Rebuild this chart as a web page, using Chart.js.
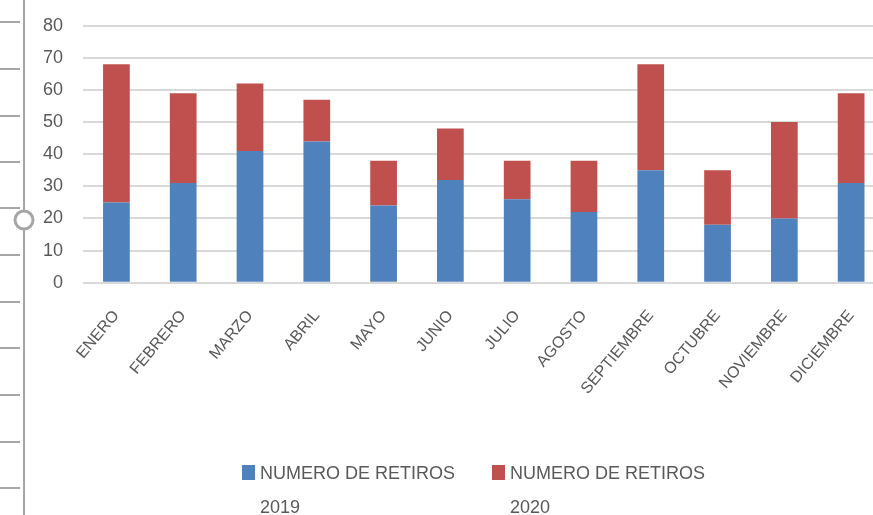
<!DOCTYPE html>
<html>
<head>
<meta charset="utf-8">
<script src="https://cdn.jsdelivr.net/npm/chart.js@4/dist/chart.umd.min.js"></script>
<style>
    html, body { margin: 0; padding: 0; background: #fff; overflow: hidden; }
    #wrap { position: relative; width: 890px; height: 515px; }
    #chart { position: absolute; left: 0; top: -5px; }
    .leg { position: absolute; font-family: 'Liberation Sans', Arial, sans-serif;
           font-size: 18px; color: #595959; line-height: 34px; }
    .leg .box { position: absolute; left: 0; top: 9px; width: 13px; height: 15px; }
    .leg .txt { position: absolute; left: 18px; top: 0; white-space: nowrap; }
</style>
</head>
<body>
<div id="wrap">
    <canvas id="chart" width="890" height="521"></canvas>
    <div class="leg" style="left:242px; top:456px;">
        <div class="box" style="background:#4F81BD"></div>
        <div class="txt" id="leg1"></div>
    </div>
    <div class="leg" style="left:492px; top:456px;">
        <div class="box" style="background:#C0504D"></div>
        <div class="txt" id="leg2"></div>
    </div>
</div>
<script>
// Datos
const meses = ['ENERO', 'FEBRERO', 'MARZO', 'ABRIL', 'MAYO', 'JUNIO', 'JULIO',
               'AGOSTO', 'SEPTIEMBRE', 'OCTUBRE', 'NOVIEMBRE', 'DICIEMBRE'];
const retiros2019 = [25, 31, 41, 44, 24, 32, 26, 22, 35, 18, 20, 31];
const retiros2020 = [43, 28, 21, 13, 14, 16, 12, 16, 33, 17, 30, 28];
const etiqueta2019 = ['NUMERO DE RETIROS', '2019'];
const etiqueta2020 = ['NUMERO DE RETIROS', '2020'];

const gris = '#595959';
const fuente = "'Liberation Sans', Arial, sans-serif";

document.getElementById('leg1').innerHTML = etiqueta2019.join('<br>');
document.getElementById('leg2').innerHTML = etiqueta2020.join('<br>');

// Marco gris de la izquierda (regla y tirador de la captura)
// el canvas sube 5px, por eso se suma 5 a cada y
const marcoIzquierdo = {
    id: 'marcoIzquierdo',
    afterDraw(chart) {
        const ctx = chart.ctx;
        ctx.save();
        ctx.translate(0, 5);
        ctx.strokeStyle = '#a6a6a6';
        ctx.lineWidth = 2;
        [22, 69, 116, 162, 208, 255, 302, 348, 395, 442, 488].forEach(y => {
            ctx.beginPath();
            ctx.moveTo(0, y);
            ctx.lineTo(20, y);
            ctx.stroke();
        });
        ctx.beginPath();
        ctx.moveTo(24, -5);
        ctx.lineTo(24, 516);
        ctx.stroke();
        ctx.beginPath();
        ctx.arc(24, 220, 9, 0, Math.PI * 2);
        ctx.fillStyle = '#fff';
        ctx.fill();
        ctx.lineWidth = 3;
        ctx.stroke();
        ctx.restore();
    }
};

const ctx = document.getElementById('chart').getContext('2d');
new Chart(ctx, {
    type: 'bar',
    data: {
        labels: meses,
        datasets: [
            {
                label: etiqueta2019.join(' '),
                data: retiros2019,
                backgroundColor: '#4F81BD',
                barPercentage: 0.4,
                categoryPercentage: 1
            },
            {
                label: etiqueta2020.join(' '),
                data: retiros2020,
                backgroundColor: '#C0504D',
                barPercentage: 0.4,
                categoryPercentage: 1
            }
        ]
    },
    options: {
        responsive: false,
        animation: false,
        layout: { padding: { left: 23, right: 4, top: 6, bottom: 94 } },
        plugins: {
            legend: { display: false },
            tooltip: { enabled: false }
        },
        scales: {
            x: {
                stacked: true,
                grid: { display: false, drawTicks: false },
                border: { display: false },
                ticks: {
                    color: gris,
                    font: { family: fuente, size: 16 },
                    minRotation: 50,
                    maxRotation: 50,
                    padding: 24
                }
            },
            y: {
                stacked: true,
                min: 0,
                max: 80,
                grid: { color: '#d9d9d9', lineWidth: 2, drawTicks: false },
                border: { display: false },
                ticks: {
                    stepSize: 10,
                    color: gris,
                    font: { family: fuente, size: 18 },
                    padding: 20
                }
            }
        }
    },
    plugins: [marcoIzquierdo]
});
</script>
</body>
</html>
